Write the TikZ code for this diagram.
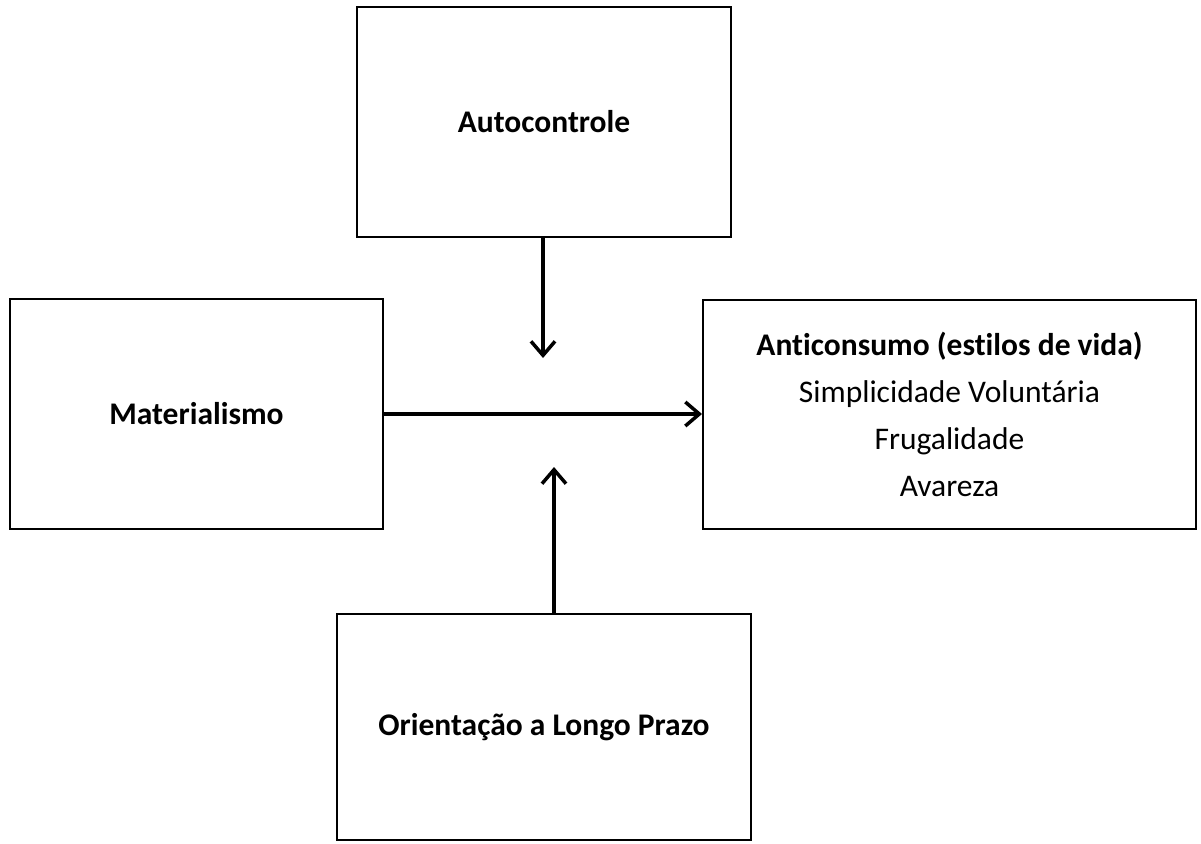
\documentclass[tikz,border=0pt]{standalone}
\usepackage{fontspec}
\setmainfont[Ligatures=NoCommon]{Carlito}
\usetikzlibrary{arrows.meta}

\begin{document}
\begin{tikzpicture}[
        x=1pt, y=-1pt,
        box/.style  = {draw, line width=2pt, align=center, inner sep=0pt,
                       font=\fontsize{31.5}{47}\selectfont},
        link/.style = {line width=3.5pt, -{Straight Barb[length=14pt, width=24pt]}},
    ]
        \useasboundingbox (0,0) rectangle (1201,843);
        \node[box, minimum width=374pt, minimum height=230pt] (auto) at (544,122) {\textbf{Autocontrole}};
        \node[box, minimum width=373pt, minimum height=230pt] (mat)  at (196.5,414) {\textbf{Materialismo}};
        \node[box, minimum width=493pt, minimum height=229pt] (anti) at (949.5,414)
            {\textbf{Anticonsumo (estilos de vida)}\\Simplicidade Voluntária\\Frugalidade\\Avareza};
        \node[box, minimum width=414pt, minimum height=226pt] (ori)  at (544,727) {\textbf{Orientação a Longo Prazo}};
        \coordinate (downtip) at (543,358);
        \coordinate (uptip) at (554,467);
        \draw[link] (auto.south -| downtip) -- (downtip);
        \draw[link] (ori.north -| uptip) -- (uptip);
        \draw[link] (mat.east) -- (anti.west);
    \end{tikzpicture}
\end{document}
